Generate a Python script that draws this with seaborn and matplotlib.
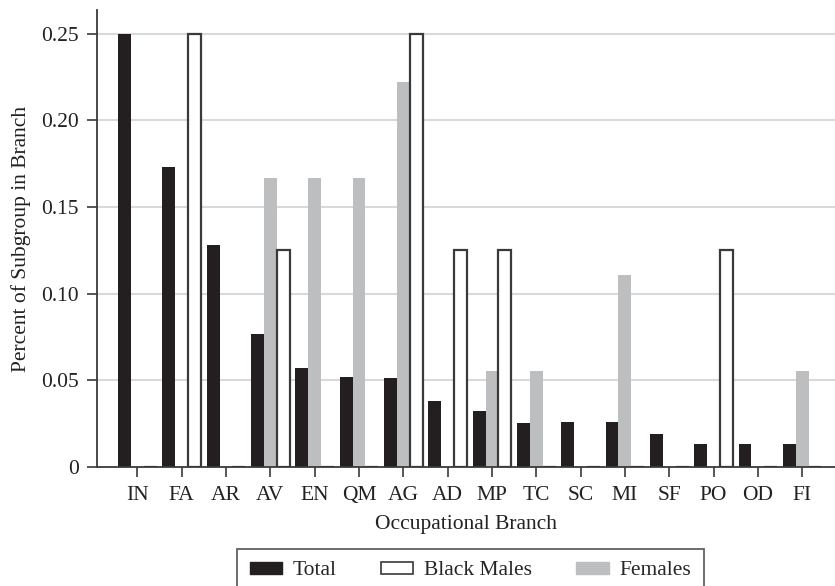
import pandas as pd
import matplotlib.pyplot as plt
import matplotlib.patches as mpatches
import seaborn as sns

branches = ['IN', 'FA', 'AR', 'AV', 'EN', 'QM', 'AG', 'AD', 'MP', 'TC', 'SC', 'MI', 'SF', 'PO', 'OD', 'FI']
total = [0.25, 0.173, 0.128, 0.077, 0.057, 0.052, 0.0515, 0.038, 0.0325, 0.0256, 0.026, 0.026, 0.019, 0.013, 0.013, 0.013]
black_males = [0, 0.25, 0, 0.125, 0, 0, 0.25, 0.125, 0.125, 0, 0, 0, 0, 0.125, 0, 0]
females = [0, 0, 0, 0.1667, 0.1667, 0.1667, 0.2222, 0, 0.0556, 0.0556, 0, 0.1111, 0, 0, 0, 0.0556]

df = pd.DataFrame({'branch': branches, 'Total': total,
                   'Black Males': black_males, 'Females': females})
long = df.melt(id_vars='branch', var_name='group', value_name='share')

sns.set_style('ticks')
plt.rcParams['font.family'] = ['Liberation Serif', 'DejaVu Serif']
plt.rcParams['font.size'] = 15.5

dark = '#231f20'
grey = '#bcbec0'
edge = '#3a3a3a'
colors = {'Total': dark, 'Females': grey, 'Black Males': 'white'}
order = ['Total', 'Females', 'Black Males']

fig = plt.figure(figsize=(8.35, 5.86), dpi=100)
ax = fig.add_axes([0.1162, 0.2031, 0.8838, 0.7799])

sns.barplot(data=long, x='branch', y='share', hue='group', hue_order=order,
            palette=colors, width=0.87, saturation=1, ax=ax, legend=False,
            linewidth=0, zorder=3)

# white bars get a dark outline
for bar in ax.containers[2]:
    bar.set_edgecolor(edge)
    bar.set_linewidth(1.6)

ax.set_ylim(0, 0.2638)
ax.set_xlim(-0.91, 15.74)
ax.set_yticks([0, 0.05, 0.10, 0.15, 0.20, 0.25])
ax.set_yticklabels(['0', '0.05', '0.10', '0.15', '0.20', '0.25'])
for y in [0.05, 0.10, 0.15, 0.20, 0.25]:
    ax.axhline(y, color='#d9d9d9', lw=1.5, zorder=1)

for side in ['top', 'right']:
    ax.spines[side].set_visible(False)
for side in ['left', 'bottom']:
    ax.spines[side].set_color(edge)
    ax.spines[side].set_linewidth(1.3)
    ax.spines[side].set_zorder(4)
ax.tick_params(axis='both', direction='out', length=7, width=1.2, color=edge,
               labelsize=15.5, labelcolor='#222222')
ax.tick_params(axis='y', pad=6)
ax.tick_params(axis='x', pad=7)

ax.set_xlabel('Occupational Branch', fontsize=15.5, color='#222222', labelpad=7)
ax.set_ylabel('Percent of Subgroup in Branch', fontsize=15.5, color='#222222', labelpad=7)

handles = [mpatches.Patch(facecolor=dark, edgecolor=dark, label='Total'),
           mpatches.Patch(facecolor='white', edgecolor=edge, linewidth=1.2, label='Black Males'),
           mpatches.Patch(facecolor=grey, edgecolor=grey, label='Females')]
leg = fig.legend(handles=handles, ncol=3, loc='center', bbox_to_anchor=(0.5635, 0.0256),
                 frameon=True, fancybox=False, edgecolor=edge, fontsize=15.5,
                 handlelength=1.5, handleheight=0.45, handletextpad=0.5,
                 columnspacing=2.05, borderpad=0.6)
leg.get_frame().set_linewidth(1.3)

fig.savefig('out.png', dpi=100)
